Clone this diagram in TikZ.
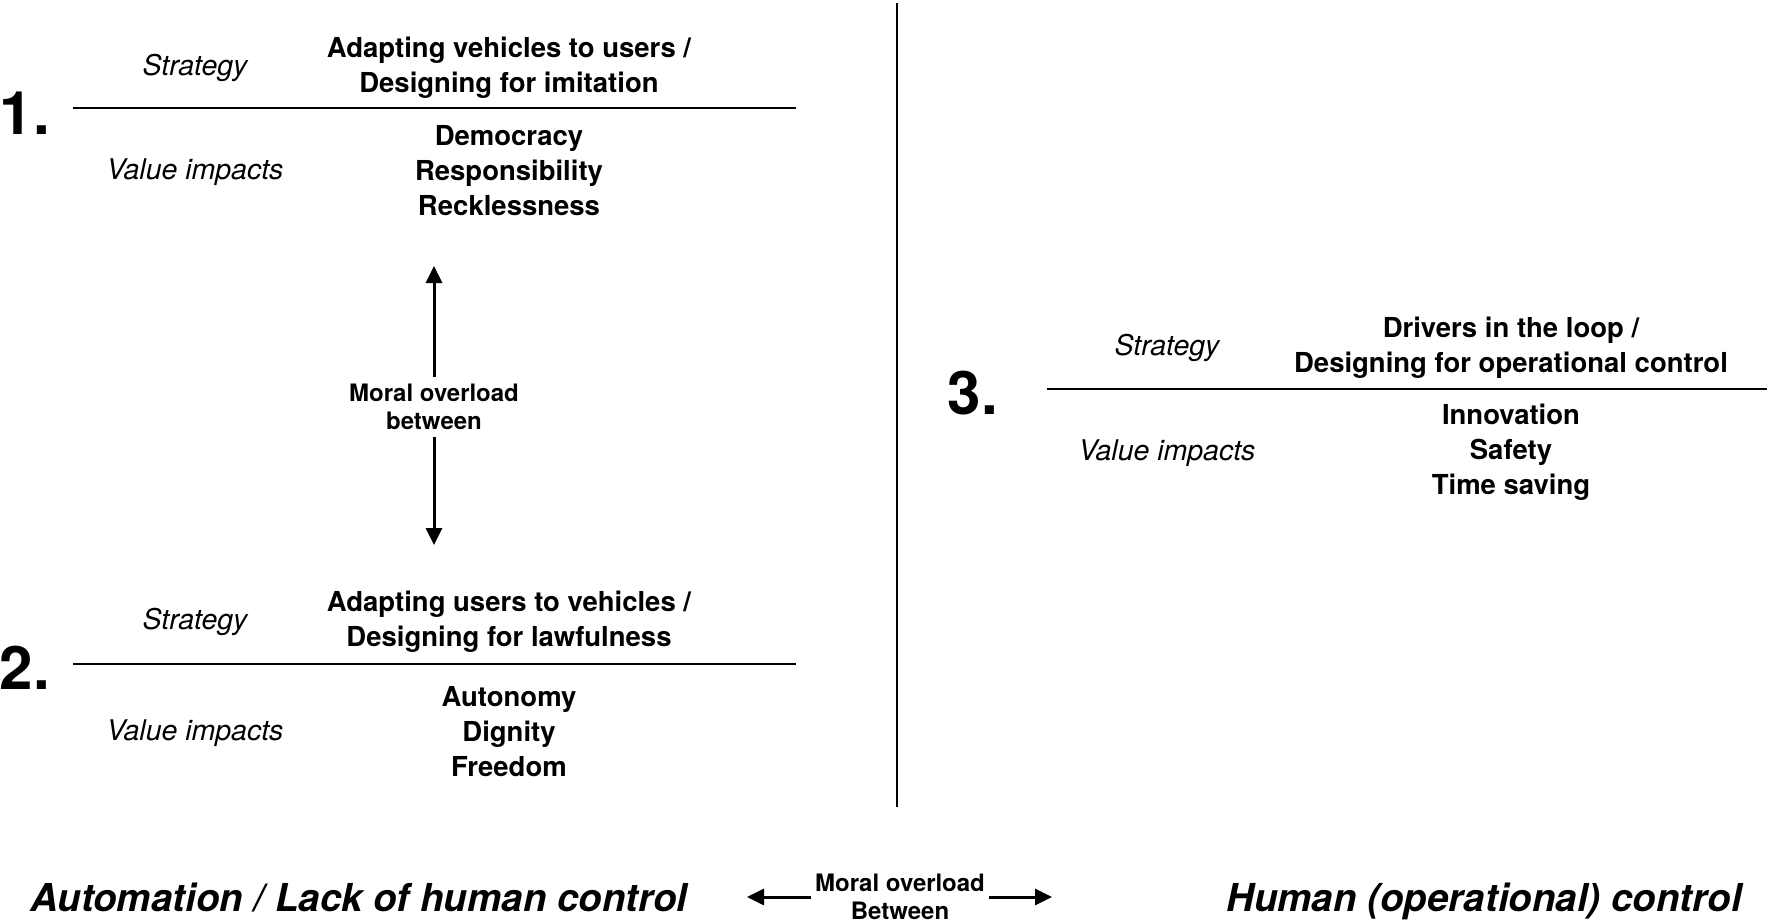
\documentclass[tikz,border=0pt]{standalone}
\usepackage{fontspec}
\setmainfont{TeX Gyre Heros}
\usetikzlibrary{arrows.meta, positioning}

\tikzset{
  labeltxt/.style={font=\fontsize{28.5}{35}\selectfont\itshape},
  valuetxt/.style={font=\fontsize{27.5}{35}\selectfont\bfseries, align=center},
  numtxt/.style={font=\fontsize{60}{62}\selectfont\bfseries},
  overloadtxt/.style={font=\fontsize{24}{28}\selectfont\bfseries, align=center, inner sep=0pt},
  axistxt/.style={font=\fontsize{38.5}{42}\selectfont\bfseries\itshape},
  rulerline/.style={line width=1.6pt},
  overload/.style={line width=3pt, -{Triangle[length=17pt,width=16pt]}},
}

\begin{document}
\begin{tikzpicture}[x=1pt,y=-1pt]
\useasboundingbox (0,0) rectangle (1770,922);

% Divider between the two sides
\coordinate (divtop) at (897,3);
\coordinate (divbot) at (897,807);
\draw[line width=2.8pt] (divtop) -- (divbot);

% Strategy 1
\node[numtxt] (num1) at (25,113) {1.};
\coordinate (rule1w) at (73,108);
\coordinate (rule1e) at (796,108);
\draw[rulerline] (rule1w) -- (rule1e);
\node[labeltxt] (strat1) at (195,68) {Strategy};
\node[valuetxt] (strat1txt) at (509,68) {Adapting vehicles to users /\\Designing for imitation};
\node[labeltxt] (val1) at (195,172) {Value impacts};
\node[valuetxt] (val1txt) at (509,171) {Democracy\\Responsibility\\Recklessness};

% Strategy 2
\node[numtxt] (num2) at (25,668) {2.};
\coordinate (rule2w) at (73,664);
\coordinate (rule2e) at (796,664);
\draw[rulerline] (rule2w) -- (rule2e);
\node[labeltxt] (strat2) at (195,622) {Strategy};
\node[valuetxt] (strat2txt) at (509,622) {Adapting users to vehicles /\\Designing for lawfulness};
\node[labeltxt] (val2) at (195,733) {Value impacts};
\node[valuetxt] (val2txt) at (509,732) {Autonomy\\Dignity\\Freedom};

% Moral overload between 1 and 2
\node[overloadtxt] (vover) at (434,407) {Moral overload\\between};
\coordinate (vtop) at (434,266);
\coordinate (vbot) at (434,545);
\draw[overload, shorten <=7pt] (vover.north) -- (vtop);
\draw[overload, shorten <=7pt] (vover.south) -- (vbot);

% Strategy 3
\node[numtxt] (num3) at (973,393) {3.};
\coordinate (rule3w) at (1047,389);
\coordinate (rule3e) at (1767,389);
\draw[rulerline] (rule3w) -- (rule3e);
\node[labeltxt] (strat3) at (1167,348) {Strategy};
\node[valuetxt] (strat3txt) at (1511,348) {Drivers in the loop /\\Designing for operational control};
\node[labeltxt] (val3) at (1167,453) {Value impacts};
\node[valuetxt] (val3txt) at (1511,452) {Innovation\\Safety\\Time saving};

% Bottom axis
\node[axistxt] (auto) at (359,897) {Automation / Lack of human control};
\node[axistxt] (human) at (1484,901) {Human (operational) control};
\node[overloadtxt] (hover) at (900,897) {Moral overload\\Between};
\coordinate (hleft) at (747,897);
\coordinate (hright) at (1052,897);
\draw[overload, shorten <=4pt] (hover.west) -- (hleft);
\draw[overload, shorten <=4pt] (hover.east) -- (hright);
\end{tikzpicture}
\end{document}
